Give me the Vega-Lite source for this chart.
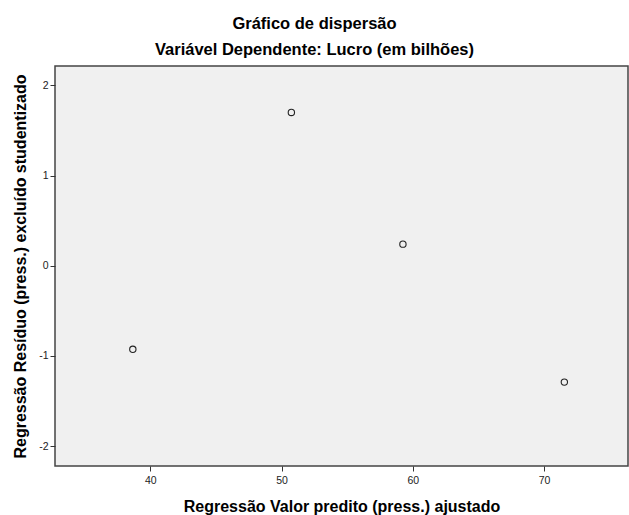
{
  "$schema": "https://vega.github.io/schema/vega-lite/v6.json",
  "width": 573,
  "height": 400,
  "autosize": {"type": "none"},
  "padding": {"left": 55, "top": 66, "right": 1, "bottom": 49},
  "background": "white",
  "title": {
    "text": "Gráfico de dispersão",
    "subtitle": "Variável Dependente: Lucro (em bilhões)",
    "anchor": "middle",
    "dx": -27,
    "font": "Liberation Sans",
    "fontSize": 16.5,
    "fontWeight": "bold",
    "color": "#000000",
    "subtitleFont": "Liberation Sans",
    "subtitleFontSize": 16.5,
    "subtitleFontWeight": "bold",
    "subtitleColor": "#000000",
    "subtitlePadding": 9,
    "offset": 8
  },
  "data": {
    "values": [
      {"predito": 50.75, "residuo": 1.70},
      {"predito": 59.25, "residuo": 0.24},
      {"predito": 38.67, "residuo": -0.926},
      {"predito": 71.55, "residuo": -1.29}
    ]
  },
  "mark": {"type": "point", "shape": "circle", "filled": false, "size": 40, "stroke": "#222222", "strokeWidth": 1.1, "opacity": 1},
  "encoding": {
    "x": {
      "field": "predito",
      "type": "quantitative",
      "scale": {"domain": [32.74, 76.4], "nice": false, "zero": false},
      "axis": {
        "title": "Regressão Valor predito (press.) ajustado",
        "values": [40, 50, 60, 70],
        "labelExpr": "'' + datum.value",
        "grid": false,
        "domain": false,
        "tickSize": 5,
        "tickColor": "#333333",
        "labelFont": "Liberation Sans",
        "labelFontSize": 10.5,
        "labelColor": "#222222",
        "labelPadding": 4,
        "titleFont": "Liberation Sans",
        "titleFontSize": 16,
        "titleFontWeight": "bold",
        "titleColor": "#000000",
        "titlePadding": 13
      }
    },
    "y": {
      "field": "residuo",
      "type": "quantitative",
      "scale": {"domain": [-2.22, 2.215], "nice": false, "zero": false},
      "axis": {
        "title": "Regressão Resíduo (press.) excluído studentizado",
        "values": [-2, -1, 0, 1, 2],
        "labelExpr": "'' + datum.value",
        "grid": false,
        "domain": false,
        "tickSize": 5,
        "tickColor": "#333333",
        "labelFont": "Liberation Sans",
        "labelFontSize": 10.5,
        "labelColor": "#222222",
        "labelPadding": 2,
        "titleFont": "Liberation Sans",
        "titleFontSize": 16,
        "titleFontWeight": "bold",
        "titleColor": "#000000",
        "titlePadding": 10
      }
    }
  },
  "config": {
    "view": {"fill": "#F0F0F0", "stroke": "#444444", "strokeWidth": 1.5}
  }
}
